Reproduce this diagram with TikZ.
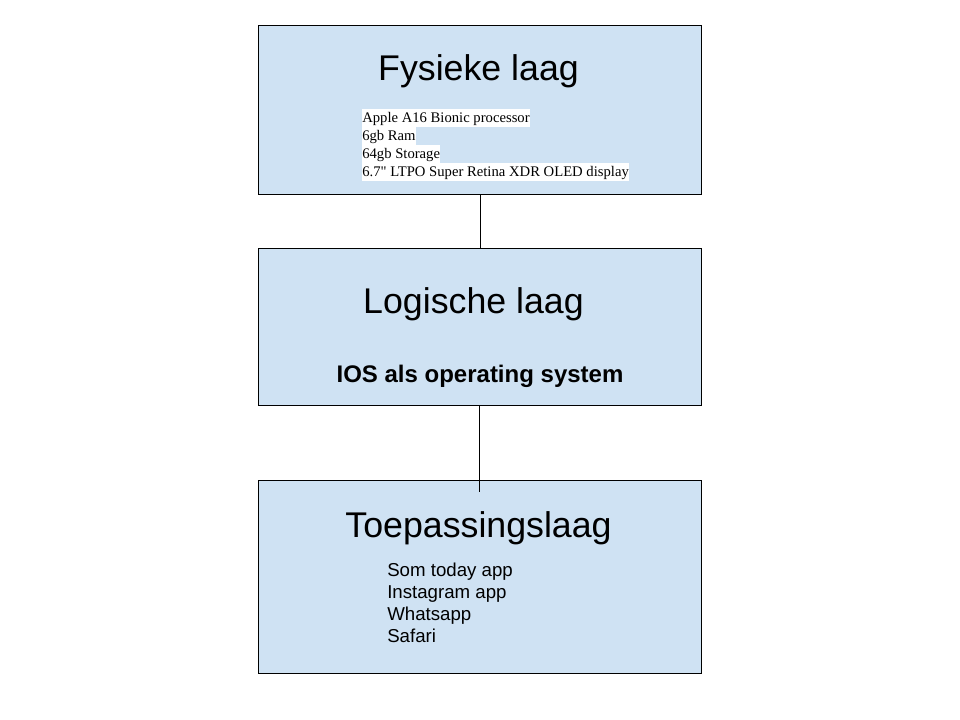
\documentclass[tikz,border=0pt]{standalone}
\usepackage{fontspec}
\setmainfont{Liberation Sans}
\newfontfamily\timesfont{Liberation Serif}
\usetikzlibrary{positioning,calc}
\definecolor{LaagBlue}{HTML}{CFE2F3}
\begin{document}
\begin{tikzpicture}[
						x=0.75pt,y=-0.75pt,
						laag/.style={draw=black,line width=0.75pt,fill=LaagBlue,minimum width=332.25pt,inner sep=0pt},
						titel/.style={anchor=base,font=\fontsize{26.8}{32}\selectfont},
						spec/.style={anchor=north west,fill=white,inner sep=0pt,text height=10.2pt,text depth=3.3pt,font=\timesfont\fontsize{11}{13.5}\selectfont},
						app/.style={anchor=base west,inner sep=0pt,font=\fontsize{14}{16.5}\selectfont},
						verbind/.style={line width=0.75pt}
					]
					\useasboundingbox (0,0) rectangle (960,720);
					\node[laag,minimum height=126.75pt] (fysiek) at (479.5,110.5) {};
					\node[laag,minimum height=117pt] (logisch) at (479.5,327) {};
					\node[laag,minimum height=144.75pt] (toepassing) at (479.5,576.5) {};

					\node[titel] (titelF) at (478.5,81) {Fysieke laag};
					\node[titel] (titelL) at (473.5,314) {Logische laag};
					\node[titel] (titelT) at (478.5,537) {Toepassingslaag};

					\foreach \tekst [count=\i] in {Apple A16 Bionic processor,6gb Ram,64gb Storage,6.7" LTPO Super Retina XDR OLED display}
						\node[spec] (spec\i) at (362,{109+18*(\i-1)}) {\tekst};

					\node[anchor=base,font=\bfseries\fontsize{18}{22}\selectfont] (ios) at (480,382) {IOS als operating system};

					\foreach \tekst [count=\i] in {Som today app,Instagram app,Whatsapp,Safari}
						\node[app] (app\i) at (387,{576+22*(\i-1)}) {\tekst};

					\coordinate (einde) at (479.5,492);
					%\draw (logisch) -- (toepassing);
					\draw[verbind] ([xshift=1.1pt]fysiek.south) -- ([xshift=1.1pt]logisch.north);
					\draw[verbind] (logisch.south) -- (einde);
				\end{tikzpicture}
\end{document}
